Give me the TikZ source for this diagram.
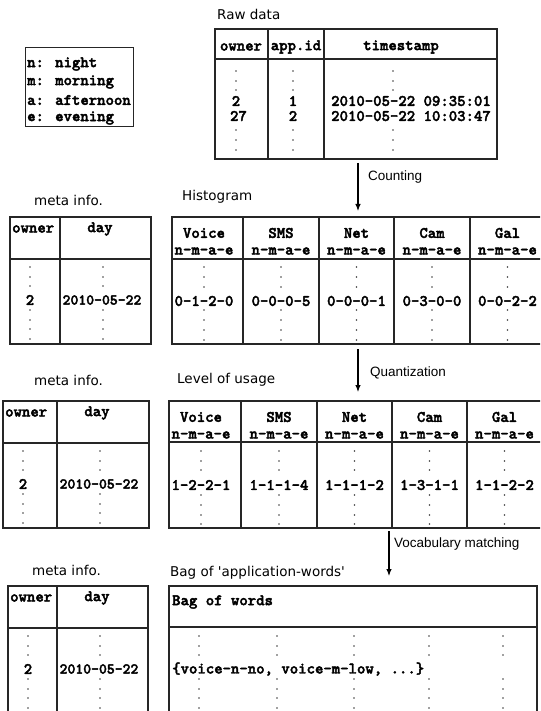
\documentclass[tikz,border=0pt]{standalone}
\usepackage{fontspec}
\setmainfont{DejaVu Sans}
\newfontfamily\arialfont{Liberation Sans}
\newfontfamily\codefont{lmmonolt10-bold.otf}[FakeBold=2.4]
\usetikzlibrary{arrows.meta}

% one "meta info." table: #1 name, #2 left edge, #3 column rule, #4 right edge, #5 top edge
\newcommand\metatab[5]{%
  \draw[grid] (#2,#5) rectangle (#4,{#5+127});
  \draw[grid] (#2,{#5+42}) -- (#4,{#5+42});
  \draw[grid] (#3,#5) -- (#3,{#5+127});
  \node[cell,anchor=west] (#1-owner) at ({#2+2},{#5+12}) {owner};
  \node[cell] (#1-day) at ({#3+40},{#5+12}) {day};
  \foreach \dy in {50,60,69,93,103,112,122}{
    \fill[dotcol] ({#2+20},{#5+\dy}) circle (0.85);
    \fill[dotcol] ({#3+43},{#5+\dy}) circle (0.85);
  }
  \node[cell] (#1-id) at ({#2+20},{#5+83}) {2};
  \node[cell,font=\codefont\fontsize{15}{17}\selectfont] (#1-date) at ({#3+42},{#5+83}) {2010-05-22};
}

\begin{document}
\begin{tikzpicture}[x=1pt,y=-1pt,
  grid/.style={line width=1.2pt, draw=black!85},
  dotcol/.style={fill=black!75},
  title/.style={anchor=west, inner sep=0pt, font=\fontsize{13.5}{16}\selectfont},
  steplabel/.style={anchor=west, inner sep=0pt, font=\arialfont\fontsize{13.5}{16}\selectfont},
  cell/.style={inner sep=0pt, font=\codefont\fontsize{16}{18}\selectfont},
  flow/.style={-{Latex[length=7pt,width=5.5pt]}, line width=1.1pt}
]
\useasboundingbox (0,0) rectangle (540,711);
\clip (0,0) rectangle (540,711);

% ---------- legend of the day periods ----------
\draw[grid, line width=1pt] (25,48) rectangle (133,127);
\node[cell,anchor=west] (leg-n) at (27,64)  {n: night};
\node[cell,anchor=west] (leg-m) at (27,82)  {m: morning};
\node[cell,anchor=west] (leg-a) at (27,100) {a: afternoon};
\node[cell,anchor=west] (leg-e) at (27,118) {e: evening};

% ---------- raw data ----------
\node[title] (raw-title) at (217,14) {Raw data};
\draw[grid] (215,29) rectangle (497,159);
\draw[grid] (215,59) -- (497,59);
\draw[grid] (268,29) -- (268,159);
\draw[grid] (324,29) -- (324,159);
\node[cell] (raw-h1) at (241,47) {owner};
\node[cell] (raw-h2) at (296,47) {app.id};
\node[cell] (raw-h3) at (401,47) {timestamp};
\foreach \dy in {71,81,90,130,140,150}{
  \fill[dotcol] (236,\dy) circle (0.85);
  \fill[dotcol] (293,\dy) circle (0.85);
  \fill[dotcol] (393,\dy) circle (0.85);
}
\node[cell] (raw-o1) at (236,101) {2};
\node[cell] (raw-o2) at (238.5,116) {27};
\node[cell] (raw-a1) at (293,101) {1};
\node[cell] (raw-a2) at (293,116) {2};
\node[cell,anchor=west] (raw-t1) at (331,101) {2010-05-22 09:35:01};
\node[cell,anchor=west] (raw-t2) at (331,116) {2010-05-22 10:03:47};

% ---------- counting ----------
\coordinate (c-from) at (358,163);
\coordinate (c-to) at (358,211);
\draw[flow] (c-from) -- (c-to);
\node[steplabel] (c-label) at (368,177) {Counting};

% ---------- histogram row ----------
\node[title] (meta1-title) at (34,200) {meta info.};
\metatab{meta1}{10}{60}{151}{217}

\node[title] (hist-title) at (182,197) {Histogram};
\draw[grid] (172,217) rectangle (545,344);
\draw[grid] (172,259) -- (545,259);
\foreach \x in {243,319,394,470}{\draw[grid] (\x,217) -- (\x,344);}
\foreach \name/\cx/\val in {Voice/204/0-1-2-0, SMS/281/0-0-0-5, Net/356.5/0-0-0-1, Cam/432/0-3-0-0, Gal/507.5/0-0-2-2}{
  \node[cell] (hist-\name) at (\cx,233) {\name};
  \node[cell] (hist-\name-p) at (\cx,251) {n-m-a-e};
  \node[cell] (hist-\name-v) at (\cx,301) {\val};
  \foreach \dy in {267,277,287,310,320,330,340}{\fill[dotcol] (\cx,\dy) circle (0.85);}
}

% ---------- quantization ----------
\coordinate (q-from) at (358,349);
\coordinate (q-to) at (358,392);
\draw[flow] (q-from) -- (q-to);
\node[steplabel] (q-label) at (370,373) {Quantization};

% ---------- level of usage row ----------
\node[title] (meta2-title) at (34,380) {meta info.};
\metatab{meta2}{3}{57}{149}{401}

\node[title] (lev-title) at (177,380) {Level of usage};
\draw[grid] (169,401) rectangle (542,528);
\draw[grid] (169,442) -- (542,442);
\foreach \x in {241,317,392,467}{\draw[grid] (\x,401) -- (\x,528);}
\foreach \name/\cx/\val in {Voice/201/1-2-2-1, SMS/279/1-1-1-4, Net/354.5/1-1-1-2, Cam/429.5/1-3-1-1, Gal/504.5/1-1-2-2}{
  \node[cell] (lev-\name) at (\cx,417) {\name};
  \node[cell] (lev-\name-p) at (\cx,435) {n-m-a-e};
  \node[cell] (lev-\name-v) at (\cx,485) {\val};
  \foreach \dy in {451,461,470,495,505,515,524}{\fill[dotcol] (\cx,\dy) circle (0.85);}
}

% ---------- vocabulary matching ----------
\coordinate (v-from) at (389,531);
\coordinate (v-to) at (389,576);
\draw[flow] (v-from) -- (v-to);
\node[steplabel] (v-label) at (394,544) {Vocabulary matching};

% ---------- bag of words row ----------
\node[title] (meta3-title) at (32,570) {meta info.};
\metatab{meta3}{8}{57}{148}{586}

\node[title] (bag-title) at (170,573) {Bag of \textquotesingle application-words\textquotesingle};
\draw[grid] (169,586) rectangle (537,720);
\draw[grid] (169,627) -- (537,627);
\node[cell,anchor=west] (bag-head) at (172,602) {Bag of words};
\foreach \cx in {199,277,354,429,503}{
  \foreach \dy in {636,646,655,679,689,698,708}{\fill[dotcol] (\cx,\dy) circle (0.85);}
}
\node[cell,anchor=west] (bag-words) at (172,669) {\{voice-n-no, voice-m-low, ...\}};
\end{tikzpicture}
\end{document}
